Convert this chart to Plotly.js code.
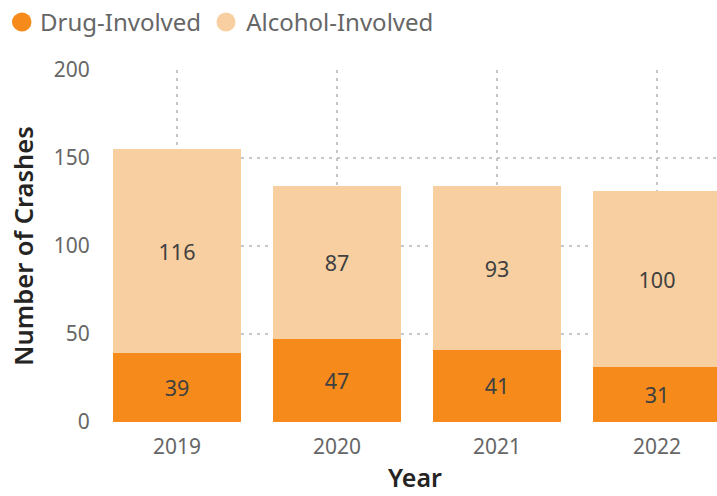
<!DOCTYPE html>
<html><head><meta charset="utf-8">
<script src="https://cdn.plot.ly/plotly-3.0.1.min.js"></script>
<style>body{margin:0;background:#fff}#c{width:717px;height:496px}</style>
</head><body><div id="c"></div>
<script>
const years = ['2019','2020','2021','2022'];
const drugInvolved = [39, 47, 41, 31];
const alcoholInvolved = [116, 87, 93, 100];
const yTicks = [0, 50, 100, 150, 200];

const FONT = '"Segoe UI", "Noto Sans", "Open Sans", sans-serif';
const DARK = '#F68B1B';
const LIGHT = '#F8CFA0';

const traces = [
  {type:'bar', x:years, y:drugInvolved, name:'Drug-Involved', marker:{color:DARK},
   text:drugInvolved.map(String), textposition:'inside', insidetextanchor:'middle',
   textfont:{family:FONT, size:21.5, color:'#404040'}, showlegend:false, hoverinfo:'skip'},
  {type:'bar', x:years, y:alcoholInvolved, name:'Alcohol-Involved', marker:{color:LIGHT},
   text:alcoholInvolved.map(String), textposition:'inside', insidetextanchor:'middle',
   textfont:{family:FONT, size:21.5, color:'#404040'}, showlegend:false, hoverinfo:'skip'},
  {type:'scatter', mode:'markers', x:[null], y:[null], name:'Drug-Involved',
   marker:{color:DARK, size:19, symbol:'circle'}},
  {type:'scatter', mode:'markers', x:[null], y:[null], name:'Alcohol-Involved',
   marker:{color:LIGHT, size:19, symbol:'circle'}}
];

const M = {l:113, r:0, t:70, b:74};
const PW = 717 - M.l - M.r, PH = 496 - M.t - M.b;
function legendDot(cx, color) {
  const r = 9.5, cy = 22;
  return {type:'circle', xref:'paper', yref:'paper',
    x0:(cx - r - M.l) / PW, x1:(cx + r - M.l) / PW,
    y0:(496 - M.b - (cy + r)) / PH, y1:(496 - M.b - (cy - r)) / PH,
    fillcolor:color, line:{width:0}, layer:'above'};
}

const layout = {
  width:717, height:496,
  margin:M,
  paper_bgcolor:'#fff', plot_bgcolor:'#fff',
  barmode:'stack', bargap:0.2,
  font:{family:FONT, color:'#666'},
  showlegend:true,
  legend:{orientation:'h', traceorder:'normal', xref:'container', yref:'container',
    x:-0.012, xanchor:'left', y:0.955, yanchor:'middle', bgcolor:'rgba(0,0,0,0)',
    font:{family:FONT, size:24, color:'#666'}, itemwidth:30, tracegroupgap:0},
  shapes:[legendDot(22, DARK), legendDot(226, LIGHT)],
  xaxis:{type:'category', range:[-0.4, 3.375], showgrid:true, gridcolor:'#c6c6c6',
    griddash:'3px,5px', gridwidth:1.5, zeroline:false, showline:false,
    tickfont:{family:FONT, size:21, color:'#666'}, ticks:'outside', ticklen:6, tickcolor:'rgba(0,0,0,0)',
    title:{text:'Year', font:{family:FONT, size:25, color:'#252423', weight:600}, standoff:10}},
  yaxis:{range:[0, 200], tickvals:yTicks, showgrid:true, gridcolor:'#c6c6c6',
    griddash:'3px,5px', gridwidth:1.5, zeroline:false, showline:false,
    tickfont:{family:FONT, size:21, color:'#666'}, ticks:'outside', ticklen:18, tickcolor:'rgba(0,0,0,0)',
    title:{text:'Number of Crashes', font:{family:FONT, size:25.5, color:'#252423', weight:600}, standoff:12}}
};

Plotly.newPlot('c', traces, layout, {displayModeBar:false, staticPlot:true});
</script></body></html>
